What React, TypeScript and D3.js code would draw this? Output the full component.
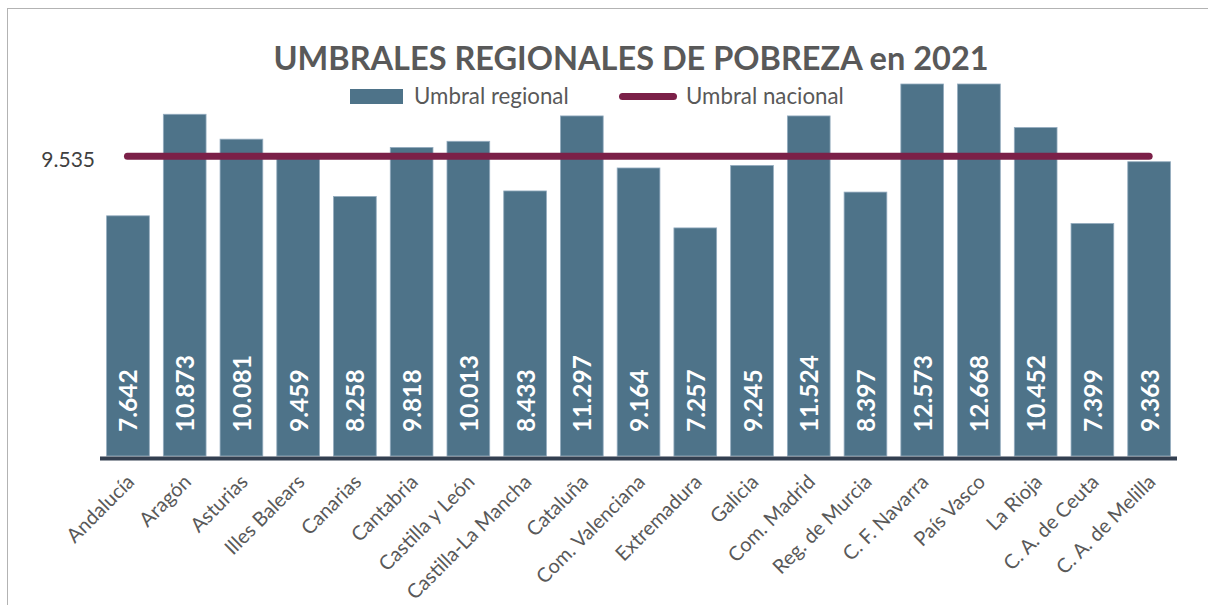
import React from "react";
import * as d3 from "d3";

const categories = [
  "Andalucía", "Aragón", "Asturias", "Illes Balears", "Canarias", "Cantabria",
  "Castilla y León", "Castilla-La Mancha", "Cataluña", "Com. Valenciana",
  "Extremadura", "Galicia", "Com. Madrid", "Reg. de Murcia", "C. F. Navarra",
  "País Vasco", "La Rioja", "C. A. de Ceuta", "C. A. de Melilla",
];
// values printed on the bars
const labelValues = [
  7.642, 10.873, 10.081, 9.459, 8.258, 9.818, 10.013, 8.433, 11.297, 9.164,
  7.257, 9.245, 11.524, 8.397, 12.573, 12.668, 10.452, 7.399, 9.363,
];
// bar heights as drawn in the picture (Cataluña and Madrid are drawn lower than their labels)
const barValues = [
  7.642, 10.873, 10.081, 9.459, 8.258, 9.818, 10.013, 8.433, 10.82, 9.164,
  7.257, 9.245, 10.82, 8.397, 12.573, 12.668, 10.452, 7.399, 9.363,
];
const nationalValue = 9.535;
const seriesNames = ["Umbral regional", "Umbral nacional"];
const title = "UMBRALES REGIONALES DE POBREZA en 2021";

const fmt = (v: number) => v.toFixed(3);

const BAR = "#4e7389";
const BAR_EDGE = "#94acbf";
const LINE = "#7b2048";
const TEXT = "#595959";
const FONT = "Lato, 'Open Sans', sans-serif";

export default function App() {
  const W = 1208, H = 605;
  const x = d3.scaleBand<string>()
    .domain(categories)
    .range([99.6, 1177.5])
    .paddingInner(0.247)
    .paddingOuter(0.1235);
  const y = d3.scaleLinear().domain([0, 11.836]).range([456, 84]).clamp(true);
  const bw = x.bandwidth();
  const cx = (c: string) => (x(c) as number) + bw / 2;
  const lineX0 = cx(categories[0]) - 0.5;
  const lineX1 = cx(categories[categories.length - 1]);

  return (
    <svg width={W} height={H} style={{ position: "absolute", left: 0, top: 0, background: "#fff" }}
      fontFamily={FONT}>
      <rect x={7.5} y={8.5} width={1400} height={800} fill="#fff" stroke="#b3b3b3" strokeWidth={1} />
      <text x={631} y={70} textAnchor="middle" fontSize={32.5} fontWeight={700} fill={TEXT}>{title}</text>

      {/* legend */}
      <rect x={350} y={89} width={53} height={15} fill={BAR} />
      <text x={414} y={103.5} fontSize={22.3} fill={TEXT}>{seriesNames[0]}</text>
      <line x1={622.5} x2={673.5} y1={96.5} y2={96.5} stroke={LINE} strokeWidth={7} strokeLinecap="round" />
      <text x={686} y={103.5} fontSize={22.3} fill={TEXT}>{seriesNames[1]}</text>

      {/* bars */}
      {categories.map((c, i) => (
        <rect key={c} x={x(c)} y={y(barValues[i])} width={bw} height={y(0) - y(barValues[i])}
          fill={BAR} stroke={BAR_EDGE} strokeWidth={0.8} />
      ))}

      {/* national line */}
      <line x1={lineX0} x2={lineX1} y1={y(nationalValue)} y2={y(nationalValue)}
        stroke={LINE} strokeWidth={7} strokeLinecap="round" />
      <text x={95} y={y(nationalValue) + 2} textAnchor="end" dominantBaseline="central" fontSize={21} fill="#404040">
        {fmt(nationalValue)}
      </text>

      {/* bar labels */}
      {categories.map((c, i) => (
        <text key={c} transform={`translate(${cx(c)},${y(0) - 24}) rotate(-90)`} textAnchor="start"
          dominantBaseline="central" fontSize={24.5} fontWeight={700} fill="#fff">
          {fmt(labelValues[i])}
        </text>
      ))}

      {/* x axis */}
      <line x1={100} x2={1177} y1={y(0) + 2.5} y2={y(0) + 2.5} stroke="#333f50" strokeWidth={4} />
      {categories.map((c) => (
        <text key={c} transform={`translate(${cx(c) + 2},${477.5}) rotate(-45)`} textAnchor="end"
          dominantBaseline="central" fontSize={20} fill={TEXT}>
          {c}
        </text>
      ))}
    </svg>
  );
}
